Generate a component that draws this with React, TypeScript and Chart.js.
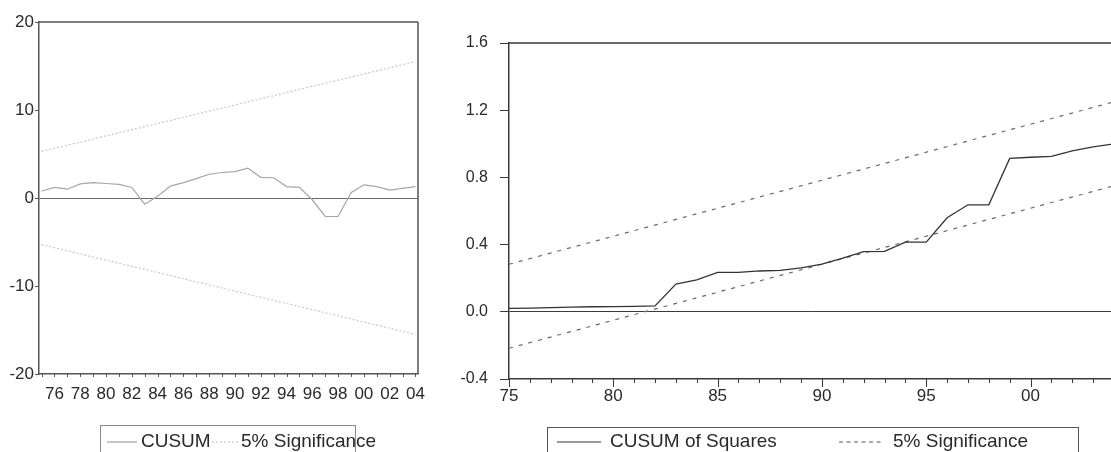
import React, { useEffect, useRef } from 'react';
import { Chart, registerables } from 'chart.js';

Chart.register(...registerables);

const FONT = "'Liberation Sans', Arial, Helvetica, sans-serif";

// ---------- Left panel: CUSUM ----------
const cusumYears = [
  1975, 1976, 1977, 1978, 1979, 1980, 1981, 1982, 1983, 1984,
  1985, 1986, 1987, 1988, 1989, 1990, 1991, 1992, 1993, 1994,
  1995, 1996, 1997, 1998, 1999, 2000, 2001, 2002, 2003, 2004,
];
const cusumValues = [
  0.8, 1.2, 1.0, 1.6, 1.75, 1.65, 1.55, 1.2, -0.7, 0.2,
  1.35, 1.75, 2.2, 2.7, 2.9, 3.0, 3.4, 2.35, 2.3, 1.3,
  1.2, -0.2, -2.1, -2.1, 0.6, 1.5, 1.3, 0.9, 1.1, 1.3,
];
const cusumBoundYears = [1975, 2004];
const cusumUpper = [5.3, 15.5];
const cusumLower = [-5.3, -15.5];
const cusumYTicks = [-20, -10, 0, 10, 20];

// ---------- Right panel: CUSUM of Squares ----------
const sqYears = [
  1975, 1976, 1977, 1978, 1979, 1980, 1981, 1982, 1983, 1984,
  1985, 1986, 1987, 1988, 1989, 1990, 1991, 1992, 1993, 1994,
  1995, 1996, 1997, 1998, 1999, 2000, 2001, 2002, 2003, 2004,
];
const sqValues = [
  0.02, 0.022, 0.025, 0.028, 0.03, 0.031, 0.032, 0.035, 0.165, 0.19,
  0.235, 0.235, 0.243, 0.246, 0.262, 0.284, 0.32, 0.358, 0.36, 0.415,
  0.415, 0.56, 0.637, 0.637, 0.913, 0.92, 0.925, 0.958, 0.982, 1.0,
];
const sqBoundYears = [1975, 2004];
const sqUpper = [0.283, 1.25];
const sqLower = [-0.217, 0.75];
const sqYTicks = [-0.4, 0, 0.4, 0.8, 1.2, 1.6];

const yy = (v: number) => String(((v % 100) + 100) % 100).padStart(2, '0');
const pts = (xs: number[], ys: number[]) => xs.map((x, i) => ({ x, y: ys[i] }));

type PanelSpec = {
  width: number;
  height: number;
  area: { left: number; top: number; right: number; bottom: number };
  xMin: number;
  xMax: number;
  xTicks: number[];
  xLabel: (v: number) => string;
  yMin: number;
  yMax: number;
  yTicks: number[];
  yFormat: (v: number) => string;
  yTickLen: number;
  yPad: number;
  xPad: number;
  xFontSize: number;
  yFontSize: number;
  axisColor: string;
  axisWidth: number;
  zeroColor: string;
  frameTop: boolean;
  frameRight: boolean;
  minorLen: number;
  majorLen: number;
  datasets: any[];
};

function Panel({ spec, style }: { spec: PanelSpec; style: React.CSSProperties }) {
  const ref = useRef<HTMLCanvasElement | null>(null);
  useEffect(() => {
    if (!ref.current) return;
    const s = spec;
    const framePlugin = {
      id: 'frameAndTicks',
      afterDraw(chart: any) {
        const { ctx, chartArea: a } = chart;
        ctx.save();
        ctx.strokeStyle = s.axisColor;
        ctx.lineWidth = s.axisWidth;
        ctx.beginPath();
        if (s.frameTop) {
          ctx.moveTo(a.left, a.top);
          ctx.lineTo(a.right, a.top);
        }
        if (s.frameRight) {
          ctx.moveTo(a.right, a.top);
          ctx.lineTo(a.right, a.bottom);
        }
        ctx.stroke();
        const xs = chart.scales.x;
        ctx.lineWidth = 1;
        ctx.beginPath();
        xs.ticks.forEach((t: any, i: number) => {
          const px = Math.round(xs.getPixelForTick(i)) + 0.5;
          const len = s.xLabel(t.value) ? s.majorLen : s.minorLen;
          ctx.moveTo(px, a.bottom);
          ctx.lineTo(px, a.bottom + len);
        });
        ctx.stroke();
        ctx.restore();
      },
    };
    const chart = new Chart(ref.current, {
      type: 'line',
      data: { datasets: s.datasets },
      options: {
        responsive: false,
        maintainAspectRatio: false,
        animation: false,
        devicePixelRatio: 1,
        layout: {
          padding: {
            left: 0,
            top: s.area.top,
            right: s.width - s.area.right,
            bottom: 0,
          },
        },
        plugins: { legend: { display: false }, tooltip: { enabled: false } },
        elements: { point: { radius: 0 }, line: { tension: 0 } },
        scales: {
          x: {
            type: 'linear',
            min: s.xMin,
            max: s.xMax,
            afterBuildTicks: (scale: any) => {
              scale.ticks = s.xTicks.map((v) => ({ value: v }));
            },
            afterFit: (scale: any) => {
              scale.height = s.height - s.area.bottom;
              scale.paddingLeft = 0;
              scale.paddingRight = 0;
            },
            ticks: {
              autoSkip: false,
              maxRotation: 0,
              minRotation: 0,
              padding: s.xPad,
              color: '#2a2a2a',
              font: { family: FONT, size: s.xFontSize },
              callback: (v: any) => s.xLabel(Number(v)),
            },
            grid: { display: false, drawTicks: false, tickLength: 0 },
            border: { display: true, color: s.axisColor, width: s.axisWidth },
          },
          y: {
            type: 'linear',
            min: s.yMin,
            max: s.yMax,
            afterBuildTicks: (scale: any) => {
              scale.ticks = s.yTicks.map((v) => ({ value: v }));
            },
            afterFit: (scale: any) => {
              scale.width = s.area.left;
              scale.paddingTop = 0;
              scale.paddingBottom = 0;
            },
            ticks: {
              padding: s.yPad,
              color: '#2a2a2a',
              font: { family: FONT, size: s.yFontSize },
              callback: (v: any) => s.yFormat(Number(v)),
            },
            grid: {
              display: true,
              drawOnChartArea: true,
              drawTicks: true,
              tickLength: s.yTickLen,
              color: (c: any) =>
                c.tick && Math.abs(c.tick.value) < 1e-9 ? s.zeroColor : 'rgba(0,0,0,0)',
              tickColor: s.axisColor,
              lineWidth: 1,
            },
            border: { display: true, color: s.axisColor, width: s.axisWidth },
          },
        },
      },
      plugins: [framePlugin],
    } as any);
    return () => chart.destroy();
  }, [spec]);
  return <canvas ref={ref} width={spec.width} height={spec.height} style={style} />;
}

const leftSpec: PanelSpec = {
  width: 440,
  height: 452,
  area: { left: 39, top: 22, right: 418, bottom: 374 },
  xMin: 1974.8,
  xMax: 2004.2,
  xTicks: cusumYears,
  xLabel: (v) => (v % 2 === 0 ? yy(v) : ''),
  yMin: -20,
  yMax: 20,
  yTicks: cusumYTicks,
  yFormat: (v) => String(v),
  yTickLen: 4,
  yPad: 1,
  xPad: 10,
  xFontSize: 17,
  yFontSize: 17,
  axisColor: '#555',
  axisWidth: 1.5,
  zeroColor: '#6a6a6a',
  frameTop: true,
  frameRight: true,
  minorLen: 3,
  majorLen: 3,
  datasets: [
    {
      label: 'CUSUM',
      data: pts(cusumYears, cusumValues),
      borderColor: '#a6a6a6',
      borderWidth: 1.2,
      pointRadius: 0,
    },
    {
      label: '5% Significance',
      data: pts(cusumBoundYears, cusumUpper),
      borderColor: '#c8c8c8',
      borderWidth: 1.2,
      borderDash: [2, 2],
      pointRadius: 0,
    },
    {
      label: '5% Significance (lower)',
      data: pts(cusumBoundYears, cusumLower),
      borderColor: '#c8c8c8',
      borderWidth: 1.2,
      borderDash: [2, 2],
      pointRadius: 0,
    },
  ],
};

const rightSpec: PanelSpec = {
  width: 700,
  height: 452,
  area: { left: 69, top: 43, right: 674, bottom: 379 },
  xMin: 1975,
  xMax: 2004,
  xTicks: sqYears,
  xLabel: (v) => (v % 5 === 0 ? yy(v) : ''),
  yMin: -0.4,
  yMax: 1.6,
  yTicks: sqYTicks,
  yFormat: (v) => v.toFixed(1),
  yTickLen: 9,
  yPad: 12,
  xPad: 7,
  xFontSize: 17,
  yFontSize: 16,
  axisColor: '#3a3a3a',
  axisWidth: 1.5,
  zeroColor: '#3a3a3a',
  frameTop: true,
  frameRight: false,
  minorLen: 4,
  majorLen: 8,
  datasets: [
    {
      label: 'CUSUM of Squares',
      data: pts(sqYears, sqValues),
      borderColor: '#333',
      borderWidth: 1.3,
      pointRadius: 0,
    },
    {
      label: '5% Significance',
      data: pts(sqBoundYears, sqUpper),
      borderColor: '#6a6a6a',
      borderWidth: 1.2,
      borderDash: [4, 6],
      pointRadius: 0,
    },
    {
      label: '5% Significance (lower)',
      data: pts(sqBoundYears, sqLower),
      borderColor: '#6a6a6a',
      borderWidth: 1.2,
      borderDash: [4, 6],
      pointRadius: 0,
    },
  ],
};

const abs = (left: number, top: number, extra: React.CSSProperties = {}): React.CSSProperties => ({
  position: 'absolute',
  left,
  top,
  ...extra,
});

const legendText: React.CSSProperties = {
  fontFamily: FONT,
  fontSize: 19,
  lineHeight: '19px',
  color: '#2a2a2a',
  whiteSpace: 'nowrap',
};

function Sample({ x1, x2, y, color, dash }: { x1: number; x2: number; y: number; color: string; dash?: string }) {
  return (
    <svg style={abs(x1, y - 2)} width={x2 - x1} height={4}>
      <line x1={0} y1={2} x2={x2 - x1} y2={2} stroke={color} strokeWidth={1.2} strokeDasharray={dash} />
    </svg>
  );
}

export default function App() {
  return (
    <div
      style={{
        position: 'fixed',
        left: 0,
        top: 0,
        width: 1111,
        height: 452,
        overflow: 'hidden',
        background: '#fff',
      }}
    >
      <Panel spec={leftSpec} style={abs(0, 0)} />
      <Panel spec={rightSpec} style={abs(440, 0)} />

      {/* Left legend */}
      <div style={abs(100, 425, { width: 254, height: 40, border: '1px solid #8a8a8a' })} />
      <Sample x1={107} x2={137} y={442} color="#a0a0a0" />
      <span style={abs(141, 431, legendText)}>CUSUM</span>
      <Sample x1={212} x2={238} y={442} color="#bdbdbd" dash="2 2" />
      <span style={abs(241, 431, legendText)}>5% Significance</span>

      {/* Right legend */}
      <div style={abs(547, 427, { width: 530, height: 40, border: '1px solid #555' })} />
      <Sample x1={557} x2={601} y={442} color="#333" />
      <span style={abs(610, 431, legendText)}>CUSUM of Squares</span>
      <Sample x1={839} x2={884} y={442} color="#555" dash="4 3.5" />
      <span style={abs(893, 431, legendText)}>5% Significance</span>
    </div>
  );
}
